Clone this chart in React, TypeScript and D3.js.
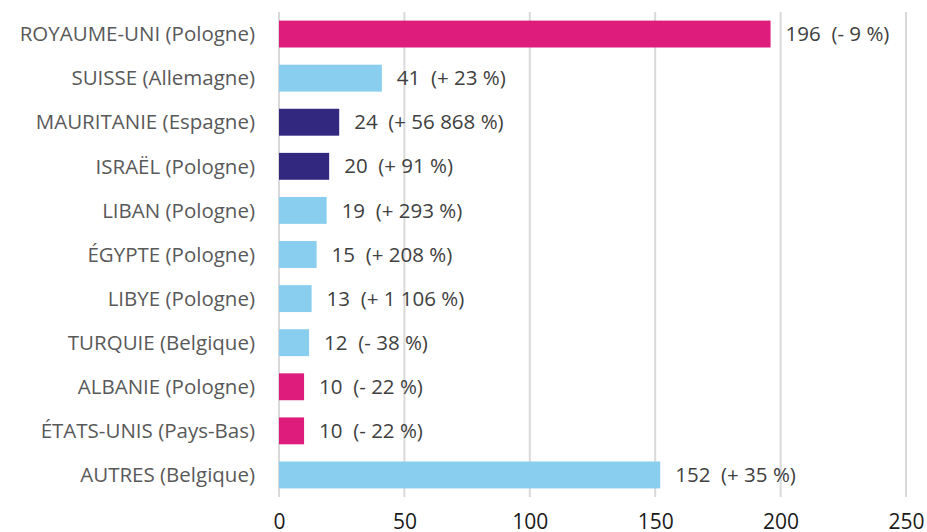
import * as d3 from "d3"
import { useRef, useEffect } from "react"

const countries = [
  "ROYAUME-UNI (Pologne)",
  "SUISSE (Allemagne)",
  "MAURITANIE (Espagne)",
  "ISRAËL (Pologne)",
  "LIBAN (Pologne)",
  "ÉGYPTE (Pologne)",
  "LIBYE (Pologne)",
  "TURQUIE (Belgique)",
  "ALBANIE (Pologne)",
  "ÉTATS-UNIS (Pays-Bas)",
  "AUTRES (Belgique)",
]
const values = [196, 41, 24, 20, 19, 15, 13, 12, 10, 10, 152]
const changes = ["- 9 %", "+ 23 %", "+ 56 868 %", "+ 91 %", "+ 293 %", "+ 208 %", "+ 1 106 %", "- 38 %", "- 22 %", "- 22 %", "+ 35 %"]
const groups = ["pink", "blue", "navy", "navy", "blue", "blue", "blue", "blue", "pink", "pink", "blue"]
const xTicks = [0, 50, 100, 150, 200, 250]

const colors: { [k: string]: string } = {
  pink: "#DD1C7C",
  blue: "#89CDEF",
  navy: "#32287F",
}

const W = 927
const H = 532
const FONT = "Open Sans, sans-serif"

export default function App() {
  const svgRef = useRef<SVGSVGElement>(null)

  useEffect(() => {
    if (!svgRef.current) return
    const svg = d3.select(svgRef.current)
    svg.selectAll("*").remove()

    const margin = { top: 12, right: 21, bottom: 35, left: 279 }

    const x = d3.scaleLinear().domain([0, 250]).range([margin.left, W - margin.right])
    const y = d3
      .scaleBand()
      .domain(countries)
      .range([margin.top, H - margin.bottom])
      .paddingInner(0.39)
      .paddingOuter(0.195)

    // grid
    svg
      .append("g")
      .selectAll("line")
      .data(xTicks)
      .enter()
      .append("line")
      .attr("x1", (d) => x(d))
      .attr("x2", (d) => x(d))
      .attr("y1", margin.top)
      .attr("y2", H - margin.bottom)
      .attr("stroke", "#D9D9D9")
      .attr("stroke-width", 2)

    // x axis labels
    svg
      .append("g")
      .attr("transform", `translate(0,${H - margin.bottom})`)
      .call(d3.axisBottom(x).tickValues(xTicks).tickSize(0).tickFormat(d3.format("d")))
      .call((g) => g.select(".domain").remove())
      .call((g) =>
        g
          .selectAll("text")
          .attr("dy", "0.35em")
          .attr("y", 25)
          .style("font-size", "21px")
          .style("font-family", FONT)
          .style("fill", "#1a1a1a"),
      )

    // y labels
    svg
      .append("g")
      .attr("transform", `translate(${margin.left - 24},0)`)
      .call(d3.axisLeft(y).tickSize(0).tickPadding(0))
      .call((g) => g.select(".domain").remove())
      .call((g) =>
        g
          .selectAll("text")
          .attr("dy", "0.35em")
          .style("font-size", "20.5px")
          .style("font-family", FONT)
          .style("fill", "#595959"),
      )

    // bars
    svg
      .append("g")
      .selectAll("rect")
      .data(countries)
      .enter()
      .append("rect")
      .attr("x", x(0))
      .attr("y", (d) => y(d) ?? 0)
      .attr("width", (_d, i) => x(values[i]) - x(0))
      .attr("height", y.bandwidth())
      .attr("fill", (_d, i) => colors[groups[i]])

    // value labels
    svg
      .append("g")
      .selectAll("text")
      .data(countries)
      .enter()
      .append("text")
      .attr("x", (_d, i) => x(values[i]) + 15)
      .attr("y", (d) => (y(d) ?? 0) + y.bandwidth() / 2)
      .attr("dy", "0.35em")
      .style("font-size", "20.5px")
      .style("font-family", FONT)
      .style("fill", "#404040")
      .style("white-space", "pre")
      .text((_d, i) => `${values[i]}  (${changes[i]})`)
  }, [])

  return (
    <svg
      ref={svgRef}
      width={W}
      height={H}
      style={{ position: "absolute", left: 0, top: 0, background: "#fff" }}
    ></svg>
  )
}
